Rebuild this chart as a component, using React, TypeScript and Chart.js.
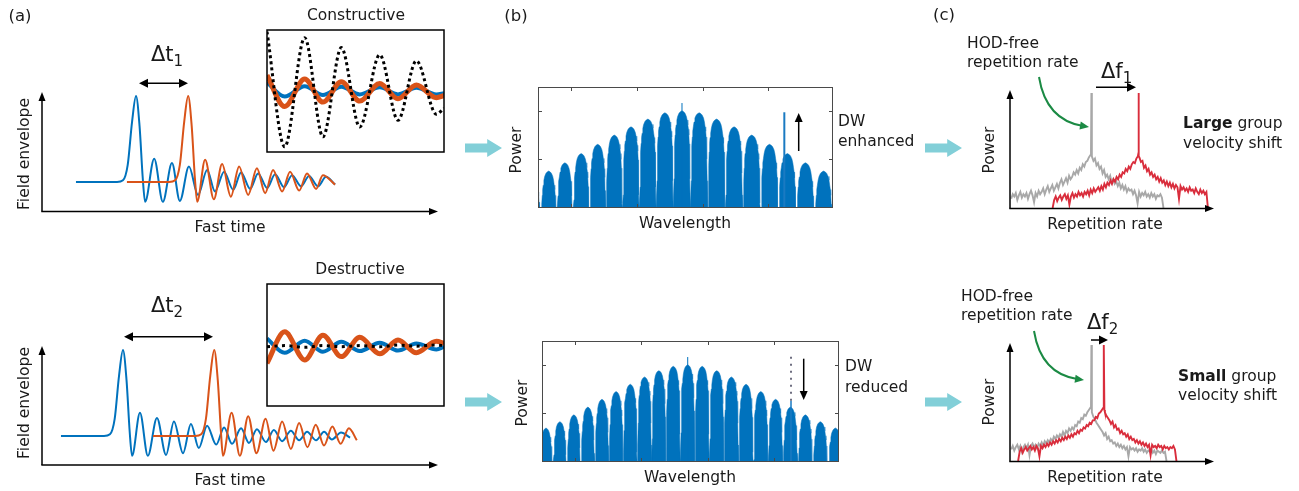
import React, { useEffect, useRef } from "react";
import { Chart, registerables } from "chart.js";
Chart.register(...registerables);

// ---------------- DATA ----------------
// (a) field envelopes: extrema (fast time [a.u.], amplitude [a.u.])
const blueConstT = [0.86, 1.90, 2.05, 2.17, 2.28, 2.38, 2.47, 2.55, 2.61, 2.84, 3.06, 3.29, 3.49, 3.72, 3.95, 4.18, 4.38, 4.61, 4.84, 5.04, 5.27, 5.47, 5.70, 5.90, 6.13, 6.33, 6.56, 6.76, 6.99, 7.19, 7.42];
const blueConstA = [0, 0, 0.02, 0.2, 0.7, 1.0, 0.65, 0.05, -0.23, 0.27, -0.23, 0.22, -0.22, 0.18, -0.15, 0.14, -0.11, 0.12, -0.09, 0.11, -0.08, 0.10, -0.07, 0.09, -0.06, 0.08, -0.05, 0.07, -0.05, 0.06, -0.03];
const orangeConstT = [2.15, 3.22, 3.37, 3.49, 3.60, 3.70, 3.79, 3.87, 3.93, 4.13, 4.35, 4.56, 4.78, 4.99, 5.22, 5.44, 5.65, 5.85, 6.08, 6.28, 6.51, 6.71, 6.94, 7.11, 7.42];
const orangeConstA = [0, 0, 0.02, 0.2, 0.7, 1.0, 0.65, 0.05, -0.23, 0.26, -0.2, 0.21, -0.17, 0.18, -0.15, 0.16, -0.13, 0.14, -0.11, 0.12, -0.1, 0.10, -0.08, 0.08, -0.03];
const blueDestT = [0.48, 1.57, 1.72, 1.84, 1.95, 2.05, 2.14, 2.22, 2.28, 2.48, 2.68, 2.91, 3.14, 3.34, 3.57, 3.77, 3.97, 4.18, 4.41, 4.61, 4.81, 5.04, 5.24, 5.44, 5.67, 5.87, 6.08, 6.30, 6.51, 6.71, 6.94, 7.14, 7.34, 7.57, 7.80];
const blueDestA = [0, 0, 0.02, 0.2, 0.7, 1.0, 0.65, 0.05, -0.23, 0.27, -0.23, 0.21, -0.22, 0.17, -0.2, 0.14, -0.14, 0.12, -0.10, 0.10, -0.09, 0.09, -0.08, 0.08, -0.07, 0.07, -0.06, 0.06, -0.05, 0.05, -0.05, 0.05, -0.04, 0.04, -0.02];
const orangeDestT = [2.81, 3.88, 4.03, 4.15, 4.26, 4.36, 4.45, 4.53, 4.58, 4.80, 5.01, 5.22, 5.43, 5.66, 5.86, 6.08, 6.30, 6.51, 6.72, 6.93, 7.14, 7.35, 7.56, 7.77, 7.97];
const orangeDestA = [0, 0, 0.02, 0.2, 0.7, 1.0, 0.65, 0.05, -0.23, 0.27, -0.23, 0.23, -0.2, 0.2, -0.17, 0.17, -0.15, 0.15, -0.13, 0.13, -0.11, 0.11, -0.09, 0.09, -0.05];

// insets (zoomed tails)
const insetT = [0, 1.0, 2.13, 3.16, 4.2, 5.24, 6.37, 7.4, 8.44, 9.57, 10];
const consSum = [1.09, -1.0, 0.98, -0.82, 0.8, -0.64, 0.67, -0.52, 0.56, -0.41, -0.3];
const consOrange = [0.3, -0.27, 0.23, -0.19, 0.18, -0.17, 0.15, -0.13, 0.12, -0.11, -0.07];
const consBlue = [0.17, -0.09, 0.10, -0.06, 0.09, -0.05, 0.08, -0.05, 0.07, -0.05, -0.03];
const destSum = [0.0, 0.02, -0.01, 0.02, 0.0, 0.02, 0.0, 0.03, 0.01, 0.03, 0.02];
const destOrange = [-0.3, 0.27, -0.24, 0.21, -0.18, 0.17, -0.13, 0.12, -0.11, 0.1, 0.06];
const destBlue = [0.15, -0.11, 0.11, -0.09, 0.09, -0.08, 0.07, -0.07, 0.06, -0.05, 0];

// (b) spectra: fringe centres (wavelength, a.u.) and fringe peak powers
const wlTicks = [11.25, 33.5, 55.8, 78.0];
const powTicks = [1, 2];
const enhCenters = [-1.83, 3.63, 9.12, 14.64, 20.24, 25.86, 31.53, 37.25, 43.02, 48.81, 54.64, 60.54, 66.47, 72.44, 78.47, 84.54, 90.64, 96.81, 102.9];
const enhPeaks = [0.62, 0.76, 0.93, 1.12, 1.31, 1.5, 1.67, 1.83, 1.96, 2.0, 1.96, 1.83, 1.67, 1.5, 1.31, 1.12, 0.93, 0.76, 0.62];
const redCenters = [-3.32, 1.35, 6.03, 10.73, 15.45, 20.19, 24.95, 29.73, 34.53, 39.35, 44.19, 49.06, 53.94, 58.84, 63.76, 68.71, 73.67, 78.65, 83.66, 88.68, 93.72, 98.79, 103.87];
const redPeaks = [0.6, 0.70, 0.83, 0.97, 1.13, 1.29, 1.45, 1.6, 1.75, 1.88, 1.97, 2.0, 1.97, 1.88, 1.75, 1.6, 1.45, 1.29, 1.13, 0.97, 0.83, 0.70, 0.6];
const enhCentreLine = { x: 48.81, y: 2.16 };
const enhDW = { x: 83.5, y: 1.97 };
const redCentreLine = { x: 49.06, y: 2.16 };
const redDW = { x: 83.84, y: 1.26 };
const redDWRef = 2.17;

// (c) repetition-rate spectra: uniform grid (start, step) + noisy values, plus the narrow line
const RR_STEP = 0.075;
const grayTopStart = 0.06;
const grayTopVals = [
  0.08, 0.12, 0.10, 0.13, 0.07, 0.11, 0.14, 0.09, 0.12, 0.10,
  0.13, 0.08, 0.12, 0.15, 0.11, 0.05, 0.13, 0.10, 0.15, 0.12,
  0.14, 0.17, 0.12, 0.16, 0.19, 0.14, 0.17, 0.20, 0.15, 0.18,
  0.21, 0.17, 0.22, 0.25, 0.20, 0.23, 0.26, 0.22, 0.28, 0.25,
  0.27, 0.31, 0.29, 0.33, 0.30, 0.35, 0.33, 0.38, 0.36, 0.40,
  0.41, 0.44, 0.46, 0.45, 0.41, 0.43, 0.37, 0.39, 0.34, 0.36,
  0.30, 0.33, 0.27, 0.29, 0.25, 0.28, 0.22, 0.25, 0.21, 0.23,
  0.19, 0.22, 0.17, 0.20, 0.16, 0.19, 0.14, 0.17, 0.15, 0.16,
  0.12, 0.15, 0.11, 0.04, 0.14, 0.10, 0.13, 0.11, 0.14, 0.10,
  0.12, 0.09, 0.13, 0.10, 0.12, 0.08, 0.11, 0.10, 0.12, 0.09, 0];
const grayTopPeakX = [3.99, 4.01, 4.03];
const grayTopPeakY = [0.5, 1.0, 0.48];
const redTopStart = 2.10;
const redTopVals = [
  0, 0.07, 0.10, 0.06, 0.09, 0.11, 0.07, 0.10, 0.12, 0.08,
  0.11, 0.03, 0.10, 0.13, 0.09, 0.12, 0.10, 0.14, 0.11, 0.13,
  0.10, 0.14, 0.12, 0.15, 0.11, 0.16, 0.13, 0.17, 0.14, 0.16,
  0.18, 0.15, 0.19, 0.16, 0.21, 0.18, 0.22, 0.20, 0.24, 0.21,
  0.25, 0.23, 0.27, 0.25, 0.29, 0.27, 0.31, 0.30, 0.34, 0.32,
  0.36, 0.34, 0.38, 0.40, 0.39, 0.43, 0.45, 0.44, 0.40, 0.41,
  0.35, 0.37, 0.32, 0.34, 0.29, 0.31, 0.27, 0.29, 0.25, 0.27,
  0.23, 0.26, 0.22, 0.24, 0.20, 0.23, 0.19, 0.22, 0.18, 0.21,
  0.17, 0.20, 0.18, 0.08, 0.19, 0.16, 0.18, 0.15, 0.17, 0.14,
  0.18, 0.15, 0.16, 0.13, 0.17, 0.14, 0.12, 0.16, 0.13, 0.15,
  0.12, 0.14, 0];
const redTopPeakX = [6.31, 6.33, 6.35];
const redTopPeakY = [0.46, 1.0, 0.45];
const grayBotStart = 0.06;
const grayBotVals = [
  0.10, 0.13, 0.09, 0.12, 0.14, 0.10, 0.13, 0.08, 0.12, 0.14,
  0.11, 0.14, 0.05, 0.13, 0.15, 0.12, 0.14, 0.11, 0.15, 0.13,
  0.16, 0.13, 0.17, 0.15, 0.18, 0.16, 0.19, 0.17, 0.21, 0.19,
  0.22, 0.20, 0.23, 0.21, 0.25, 0.22, 0.26, 0.24, 0.28, 0.26,
  0.29, 0.27, 0.31, 0.30, 0.34, 0.33, 0.37, 0.36, 0.40, 0.39,
  0.42, 0.44, 0.46, 0.42, 0.38, 0.36, 0.33, 0.31, 0.29, 0.27,
  0.25, 0.22, 0.24, 0.19, 0.21, 0.17, 0.18, 0.15, 0.16, 0.13,
  0.15, 0.12, 0.14, 0.11, 0.13, 0.10, 0.12, 0.04, 0.12, 0.10,
  0.11, 0.09, 0.11, 0.08, 0.10, 0.09, 0.11, 0.08, 0.10, 0.07,
  0.09, 0.08, 0.10, 0.07, 0.09, 0.06, 0.09, 0.08, 0.07, 0.09,
  0.07, 0.08, 0];
const grayBotPeakX = [3.99, 4.01, 4.03];
const grayBotPeakY = [0.47, 1.0, 0.43];
const redBotStart = 0.40;
const redBotVals = [
  0, 0.08, 0.11, 0.07, 0.10, 0.12, 0.09, 0.11, 0.13, 0.10,
  0.12, 0.09, 0.13, 0.11, 0.04, 0.13, 0.11, 0.14, 0.12, 0.15,
  0.13, 0.16, 0.14, 0.17, 0.15, 0.18, 0.16, 0.19, 0.17, 0.20,
  0.18, 0.21, 0.19, 0.22, 0.20, 0.23, 0.21, 0.24, 0.23, 0.26,
  0.24, 0.27, 0.26, 0.29, 0.28, 0.31, 0.30, 0.33, 0.32, 0.35,
  0.35, 0.38, 0.37, 0.41, 0.42, 0.44, 0.46, 0.42, 0.39, 0.37,
  0.35, 0.32, 0.34, 0.29, 0.31, 0.27, 0.28, 0.24, 0.26, 0.23,
  0.24, 0.21, 0.23, 0.19, 0.21, 0.18, 0.19, 0.16, 0.18, 0.15,
  0.17, 0.14, 0.16, 0.13, 0.15, 0.12, 0.14, 0.05, 0.14, 0.12,
  0.13, 0.11, 0.14, 0.12, 0.13, 0.10, 0.13, 0.11, 0.12, 0.10,
  0.12, 0.11, 0.13, 0.10, 0];
const redBotPeakX = [4.61, 4.63, 4.65];
const redBotPeakY = [0.46, 1.0, 0.44];

// ---------------- STYLE ----------------
const FONT = '"DejaVu Sans", Verdana, sans-serif';
const TXT = "#1a1a1a";
const BLUE = "#0072BD";
const ORANGE = "#D95319";
const GRAY = "#A8A8A8";
const RED = "#D92D3C";
const CYAN = "#82CFD8";
const GREEN = "#1B8A44";
// fringe outline: fraction of the half-spacing to the next fringe vs drop below the fringe peak
const LOBE_U = [0, 0.2, 0.35, 0.5, 0.6, 0.68, 0.75, 0.8, 0.85, 0.88, 0.92, 0.96, 0.99];
const LOBE_DROP = [0, 0.02, 0.05, 0.11, 0.19, 0.29, 0.38, 0.5, 0.68, 0.95, 1.4, 2.0, 3.0];

type Pt = { x: number; y: number };
const pts = (xs: number[], ys: number[]): Pt[] => xs.map((x, i) => ({ x, y: ys[i] }));
const grid = (x0: number, ys: number[]): Pt[] => ys.map((y, i) => ({ x: +(x0 + i * RR_STEP).toFixed(4), y }));
const withPeak = (base: Pt[], px: number[], py: number[]) => [...base, ...pts(px, py)].sort((a, b) => a.x - b.x);
function comb(c: number[], h: number[]): Pt[] {
  const out: Pt[] = [];
  const n = c.length;
  c.forEach((ci, i) => {
    const hl = (i === 0 ? c[1] - c[0] : c[i] - c[i - 1]) / 2;
    const hr = (i === n - 1 ? c[i] - c[i - 1] : c[i + 1] - c[i]) / 2;
    for (let k = LOBE_U.length - 1; k > 0; k--) out.push({ x: ci - LOBE_U[k] * hl, y: Math.max(0, h[i] - LOBE_DROP[k]) });
    out.push({ x: ci, y: h[i] });
    for (let k = 1; k < LOBE_U.length; k++) out.push({ x: ci + LOBE_U[k] * hr, y: Math.max(0, h[i] - LOBE_DROP[k]) });
  });
  return out;
}
const vline = (p: Pt, y0 = 0): Pt[] => [{ x: p.x, y: y0 }, { x: p.x, y: p.y }];

const curve = (data: Pt[], color: string, width: number, extra: any = {}) => ({
  data, borderColor: color, borderWidth: width, pointRadius: 0, fill: false,
  cubicInterpolationMode: "monotone", ...extra,
});
const straight = (data: Pt[], color: string, width: number, extra: any = {}) => ({
  data, borderColor: color, borderWidth: width, pointRadius: 0, fill: false, tension: 0, ...extra,
});

function framePlugin(o: { color: string; width: number; xTicks?: number[]; yTicks?: number[]; tick?: number }) {
  return {
    id: "frame",
    afterDatasetsDraw(chart: any) {
      const { ctx, chartArea: a, scales } = chart;
      ctx.save();
      ctx.strokeStyle = o.color;
      ctx.lineWidth = o.width;
      const h = o.width % 2 === 1 ? 0.5 : 0;
      ctx.strokeRect(a.left + h, a.top + h, a.right - a.left - 2 * h, a.bottom - a.top - 2 * h);
      const L = o.tick || 0;
      ctx.beginPath();
      (o.xTicks || []).forEach((v) => {
        const px = Math.round(scales.x.getPixelForValue(v)) + 0.5;
        ctx.moveTo(px, a.top); ctx.lineTo(px, a.top + L);
        ctx.moveTo(px, a.bottom); ctx.lineTo(px, a.bottom - L);
      });
      (o.yTicks || []).forEach((v) => {
        const py = Math.round(scales.y.getPixelForValue(v)) + 0.5;
        ctx.moveTo(a.left, py); ctx.lineTo(a.left + L, py);
        ctx.moveTo(a.right, py); ctx.lineTo(a.right - L, py);
      });
      ctx.stroke();
      ctx.restore();
    },
  };
}

function makeConfig(datasets: any[], xr: number[], yr: number[], pad: number, plugins: any[] = []) {
  return {
    type: "line",
    data: { datasets },
    options: {
      responsive: false, maintainAspectRatio: false, animation: false, devicePixelRatio: 1, events: [],
      layout: { padding: pad },
      plugins: { legend: { display: false }, tooltip: { enabled: false } },
      elements: { point: { radius: 0 } },
      scales: {
        x: { type: "linear", display: false, min: xr[0], max: xr[1] },
        y: { type: "linear", display: false, min: yr[0], max: yr[1] },
      },
    },
    plugins,
  };
}

function Plot({ left, top, width, height, pad = 3, config }: any) {
  const ref = useRef<HTMLCanvasElement>(null);
  useEffect(() => {
    const chart = new Chart(ref.current as HTMLCanvasElement, config);
    return () => chart.destroy();
  }, []);
  const W = width + 2 * pad, H = height + 2 * pad;
  return <canvas ref={ref} width={W} height={H} style={{ position: "absolute", left: left - pad, top: top - pad, width: W, height: H }} />;
}

function T({ x, y, children, size = 15.5, rot = false, left = false }: any) {
  return (
    <div style={{
      position: "absolute", left: x, top: y, fontFamily: FONT, fontSize: size, lineHeight: 1, color: TXT,
      whiteSpace: "nowrap",
      transform: left ? "translate(0,-50%)" : `translate(-50%,-50%)${rot ? " rotate(-90deg)" : ""}`,
    }}>{children}</div>
  );
}
function Sym({ x, y, base, sub }: any) {
  return (
    <div style={{ position: "absolute", left: x, top: y, transform: "translate(0,-50%)", fontFamily: FONT, fontSize: 21, lineHeight: 1, color: TXT, whiteSpace: "nowrap" }}>
      {base}<span style={{ fontSize: 15, position: "relative", top: 5 }}>{sub}</span>
    </div>
  );
}

function Arrow({ x1, y1, x2, y2, color = "#000", w = 1.5, head = 9, hw = 4, both = false }: any) {
  const dx = x2 - x1, dy = y2 - y1, len = Math.hypot(dx, dy), ux = dx / len, uy = dy / len, px = -uy, py = ux;
  const tri = (tx: number, ty: number, sx: number, sy: number) =>
    `${tx},${ty} ${tx - sx * head + px * hw},${ty - sy * head + py * hw} ${tx - sx * head - px * hw},${ty - sy * head - py * hw}`;
  const a = both ? head * 0.8 : 0, b = head * 0.8;
  return (
    <g>
      <line x1={x1 + ux * a} y1={y1 + uy * a} x2={x2 - ux * b} y2={y2 - uy * b} stroke={color} strokeWidth={w} />
      <polygon points={tri(x2, y2, ux, uy)} fill={color} />
      {both && <polygon points={tri(x1, y1, -ux, -uy)} fill={color} />}
    </g>
  );
}
function CurvedArrow({ x0, y0, cx, cy, x1, y1 }: any) {
  const dx = x1 - cx, dy = y1 - cy, l = Math.hypot(dx, dy), ux = dx / l, uy = dy / l, px = -uy, py = ux;
  const head = 9, hw = 4;
  const bx = x1 - ux * head, by = y1 - uy * head;
  return (
    <g>
      <path d={`M${x0},${y0} Q${cx},${cy} ${x1 - ux * 6},${y1 - uy * 6}`} stroke={GREEN} strokeWidth={2} fill="none" />
      <polygon points={`${x1},${y1} ${bx + px * hw},${by + py * hw} ${bx - px * hw},${by - py * hw}`} fill={GREEN} />
    </g>
  );
}
function BlockArrow({ x0, x1, y }: any) {
  const xh = x0 + (x1 - x0) * 0.6;
  return <polygon points={`${x0},${y - 4.5} ${xh},${y - 4.5} ${xh},${y - 9} ${x1},${y} ${xh},${y + 9} ${xh},${y + 4.5} ${x0},${y + 4.5}`} fill={CYAN} />;
}

export default function App() {
  const AX = [0, 10];
  const AY = [-0.337, 1.058];

  // Chart.js draws the first dataset on top, so the top-most mark comes first.
  const cfgA1 = makeConfig([
    curve(pts(orangeConstT, orangeConstA), ORANGE, 2),
    curve(pts(blueConstT, blueConstA), BLUE, 2),
  ], AX, AY, 3);
  const cfgA2 = makeConfig([
    curve(pts(orangeDestT, orangeDestA), ORANGE, 2),
    curve(pts(blueDestT, blueDestA), BLUE, 2),
  ], AX, AY, 3);
  const cfgI1 = makeConfig([
    curve(pts(insetT, consSum), "#000", 3, { borderDash: [3, 3] }),
    curve(pts(insetT, consOrange), ORANGE, 5),
    curve(pts(insetT, consBlue), BLUE, 4),
  ], [0, 10], [-1.096, 1.12], 2, [framePlugin({ color: "#000", width: 1.5 })]);
  const cfgI2 = makeConfig([
    curve(pts(insetT, destSum), "#000", 3, { borderDash: [3, 4.5] }),
    curve(pts(insetT, destOrange), ORANGE, 5),
    curve(pts(insetT, destBlue), BLUE, 4),
  ], [0, 10], [-1.078, 1.14], 2, [framePlugin({ color: "#000", width: 1.5 })]);

  const specPlugin = () => framePlugin({ color: "#4a4a4a", width: 1, xTicks: wlTicks, yTicks: powTicks, tick: 4 });
  const cfgB1 = makeConfig([
    straight(vline(enhDW), "#1a7ac2", 2),
    straight(vline(enhCentreLine), BLUE, 1),
    straight(comb(enhCenters, enhPeaks), BLUE, 0.5, { fill: "origin", backgroundColor: BLUE }),
  ], [0, 100], [0, 2.49], 3, [specPlugin()]);
  const cfgB2 = makeConfig([
    straight([{ x: redDW.x, y: redDW.y }, { x: redDW.x, y: redDWRef }], "#6e6e80", 2, { borderDash: [2, 5] }),
    straight(vline(redDW), "#1a7ac2", 1.5),
    straight(vline(redCentreLine), BLUE, 1),
    straight(comb(redCenters, redPeaks), BLUE, 0.5, { fill: "origin", backgroundColor: BLUE }),
  ], [0, 100], [0, 2.49], 3, [specPlugin()]);

  const cfgC1 = makeConfig([
    straight(withPeak(grid(redTopStart, redTopVals), redTopPeakX, redTopPeakY), RED, 1.9),
    straight(withPeak(grid(grayTopStart, grayTopVals), grayTopPeakX, grayTopPeakY), GRAY, 1.9),
  ], [0, 10], [0, 1.026], 3);
  const cfgC2 = makeConfig([
    straight(withPeak(grid(redBotStart, redBotVals), redBotPeakX, redBotPeakY), RED, 1.9),
    straight(withPeak(grid(grayBotStart, grayBotVals), grayBotPeakX, grayBotPeakY), GRAY, 1.9),
  ], [0, 10], [0, 1.009], 3);

  return (
    <div style={{ position: "absolute", left: 0, top: 0, width: 1299, height: 491, background: "#fff", overflow: "hidden" }}>
      <Plot left={42} top={91} width={395} height={120} config={cfgA1} />
      <Plot left={42} top={345} width={395} height={120} config={cfgA2} />
      <Plot left={267} top={30} width={177} height={122} pad={2} config={cfgI1} />
      <Plot left={267} top={284} width={177} height={122} pad={2} config={cfgI2} />
      <Plot left={538} top={87} width={295} height={121} config={cfgB1} />
      <Plot left={542} top={341} width={297} height={121} config={cfgB2} />
      <Plot left={1010} top={90} width={203} height={118} config={cfgC1} />
      <Plot left={1010} top={344} width={203} height={117} config={cfgC2} />

      <svg width={1299} height={491} style={{ position: "absolute", left: 0, top: 0, pointerEvents: "none" }}>
        <Arrow x1={42} y1={211.5} x2={42} y2={92} head={9} hw={3.5} />
        <Arrow x1={41.3} y1={211.5} x2={438} y2={211.5} head={9} hw={3.5} />
        <Arrow x1={42} y1={465} x2={42} y2={346} head={9} hw={3.5} />
        <Arrow x1={41.3} y1={465} x2={438} y2={465} head={9} hw={3.5} />
        <Arrow x1={139} y1={83.3} x2={188} y2={83.3} both head={9} hw={4.5} />
        <Arrow x1={124} y1={336.7} x2={213} y2={336.7} both head={9} hw={4.5} />
        <Arrow x1={798.7} y1={151} x2={798.7} y2={113} head={9} hw={4} />
        <Arrow x1={803.7} y1={358.7} x2={803.7} y2={400} head={9} hw={4} />
        <BlockArrow x0={465} x1={502} y={148} />
        <BlockArrow x0={465} x1={502} y={402} />
        <BlockArrow x0={925} x1={962} y={148} />
        <BlockArrow x0={925} x1={962} y={402} />
        <Arrow x1={1010} y1={208.5} x2={1010} y2={90} head={9} hw={3.5} />
        <Arrow x1={1009.3} y1={208.5} x2={1214} y2={208.5} head={9} hw={3.5} />
        <Arrow x1={1010} y1={461.5} x2={1010} y2={343} head={9} hw={3.5} />
        <Arrow x1={1009.3} y1={461.5} x2={1214} y2={461.5} head={9} hw={3.5} />
        <Arrow x1={1096} y1={87.3} x2={1136} y2={87.3} head={9} hw={4.5} />
        <Arrow x1={1091} y1={340} x2={1108} y2={340} head={9} hw={4.5} />
        <CurvedArrow x0={1039} y0={77} cx={1046} cy={120} x1={1089} y1={127} />
        <CurvedArrow x0={1034} y0={331} cx={1041} cy={374} x1={1084} y1={380} />
      </svg>

      <T x={20} y={16} size={16.5}>(a)</T>
      <T x={356} y={16}>Constructive</T>
      <Sym x={151} y={54} base="Δt" sub="1" />
      <T x={25} y={154} rot>Field envelope</T>
      <T x={230} y={228}>Fast time</T>
      <T x={360} y={270}>Destructive</T>
      <Sym x={151} y={305} base="Δt" sub="2" />
      <T x={25} y={403} rot>Field envelope</T>
      <T x={230} y={481}>Fast time</T>

      <T x={516} y={16} size={16.5}>(b)</T>
      <T x={517} y={150} rot>Power</T>
      <T x={685} y={224}>Wavelength</T>
      <T x={838} y={122} left>DW</T>
      <T x={838} y={142} left>enhanced</T>
      <T x={523} y={403} rot>Power</T>
      <T x={690} y={478}>Wavelength</T>
      <T x={845} y={367} left>DW</T>
      <T x={845} y={388} left>reduced</T>

      <T x={944} y={15} size={16.5}>(c)</T>
      <T x={967} y={44} left>HOD-free</T>
      <T x={967} y={63} left>repetition rate</T>
      <Sym x={1101} y={71} base="Δf" sub="1" />
      <T x={990} y={150} rot>Power</T>
      <T x={1105} y={225}>Repetition rate</T>
      <T x={1183} y={124} left><b>Large</b> group</T>
      <T x={1183} y={144} left>velocity shift</T>
      <T x={961} y={297} left>HOD-free</T>
      <T x={961} y={316} left>repetition rate</T>
      <Sym x={1087} y={322} base="Δf" sub="2" />
      <T x={990} y={402} rot>Power</T>
      <T x={1105} y={478}>Repetition rate</T>
      <T x={1178} y={377} left><b>Small</b> group</T>
      <T x={1178} y={396} left>velocity shift</T>
    </div>
  );
}
